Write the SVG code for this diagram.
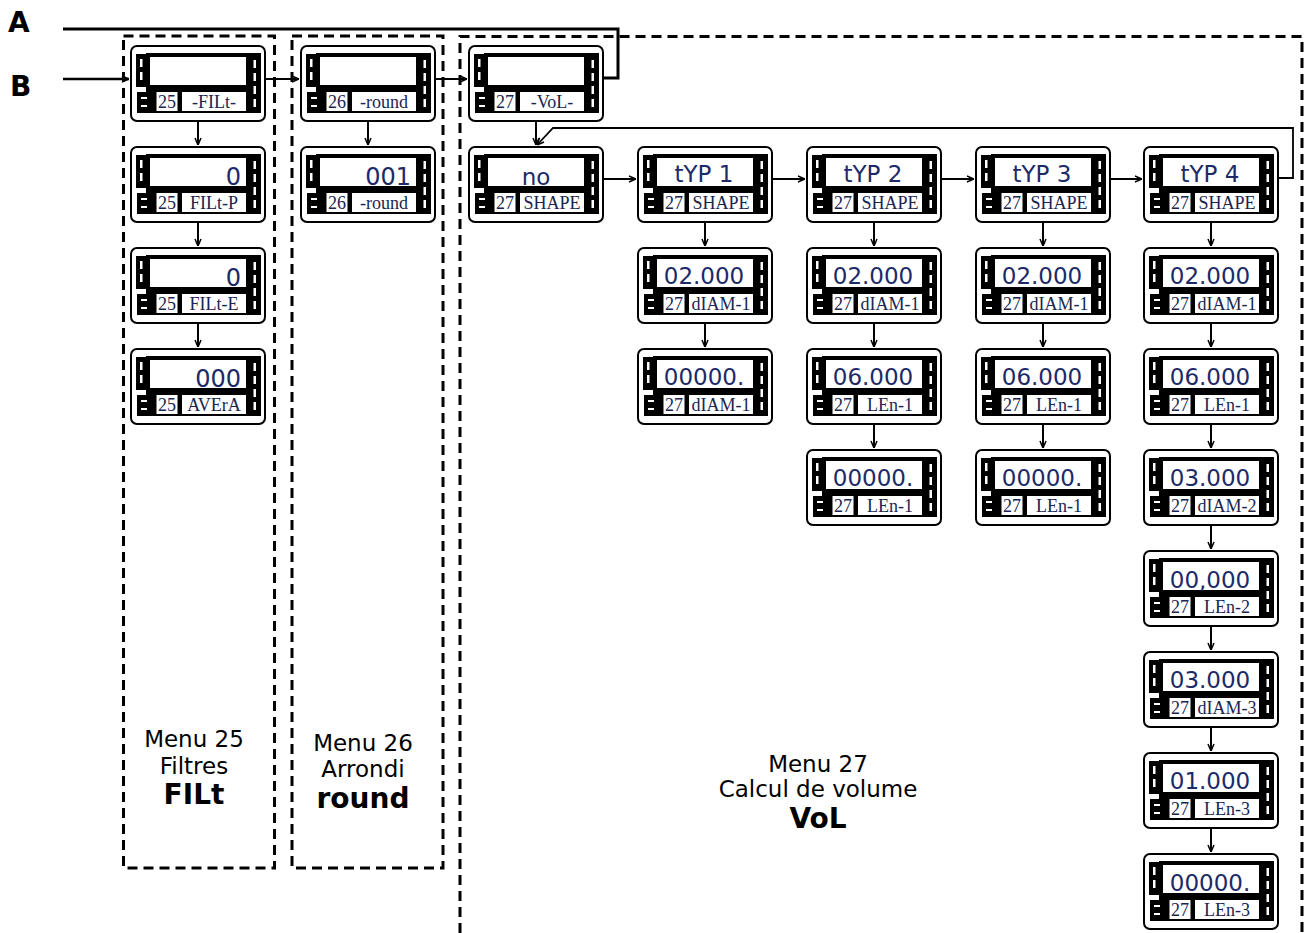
<svg xmlns="http://www.w3.org/2000/svg" xmlns:xlink="http://www.w3.org/1999/xlink" width="1309" height="933" viewBox="0 0 1309 933">
<style>
.box{fill:none;stroke:#000;stroke-width:3;stroke-dasharray:10 6}
.ln{fill:none;stroke:#000;stroke-width:2}
.num{font-family:"Liberation Serif",serif;font-size:18px;fill:#1a2550;text-anchor:middle}
.lab{font-family:"Liberation Serif",serif;font-size:18px;fill:#1a2550;text-anchor:middle}
.disp{font-family:"DejaVu Sans",sans-serif;font-size:23px;fill:#1c2a68;text-anchor:middle}
.dispr{font-family:"DejaVu Sans",sans-serif;font-size:24px;fill:#1c2a68;text-anchor:end}
.cap{font-family:"DejaVu Sans",sans-serif;font-size:23px;fill:#000;text-anchor:middle}
.big{font-family:"DejaVu Sans",sans-serif;font-size:28px;font-weight:bold;fill:#000;text-anchor:middle}
.ab{font-family:"DejaVu Sans",sans-serif;font-size:28px;font-weight:bold;fill:#000}
</style>
<defs>
<marker id="ar" viewBox="0 0 8 8" refX="8" refY="4" markerWidth="8" markerHeight="8" markerUnits="userSpaceOnUse" orient="auto">
<path d="M1,1 L8,4 L1,7" fill="none" stroke="#000" stroke-width="1.5"/>
</marker>
<g id="dev">
<rect x="1" y="1" width="134" height="75" rx="6" fill="#fff" stroke="#000" stroke-width="2"/>
<rect x="6" y="9" width="10" height="33" fill="#000"/>
<rect x="16" y="8" width="115" height="60" fill="#000"/>
<rect x="7" y="47" width="10" height="21" fill="#000"/>
<rect x="20" y="12" width="96" height="28" fill="#fff"/>
<rect x="10" y="14" width="2.5" height="8" fill="#fff"/>
<rect x="10" y="27" width="2.5" height="8" fill="#fff"/>
<rect x="123.5" y="15" width="2.5" height="8" fill="#fff"/>
<rect x="123.5" y="28" width="2.5" height="8" fill="#fff"/>
<rect x="123.5" y="41" width="2.5" height="8" fill="#fff"/>
<rect x="123.5" y="54" width="2.5" height="8" fill="#fff"/>
<rect x="11" y="52" width="6" height="2" fill="#fff"/>
<rect x="11" y="60" width="6" height="2" fill="#fff"/>
<rect x="26.5" y="47" width="21" height="19" fill="#fff"/>
<rect x="52" y="47" width="64" height="19" fill="#fff"/>
</g>
</defs>
<rect width="1309" height="933" fill="#fff"/>

<g id="frames">
<rect class="box" x="123.5" y="36" width="151" height="832"/>
<rect class="box" x="292" y="36" width="151" height="832"/>
<path class="box" d="M460,933 V36.5 H1302 V933"/>
</g>

<g id="labels">
<text class="ab" x="8" y="32">A</text>
<text class="ab" x="10" y="96">B</text>
<text class="cap" x="194" y="747">Menu 25</text>
<text class="cap" x="194" y="774">Filtres</text>
<text class="big" x="194" y="804">FILt</text>
<text class="cap" x="363" y="751">Menu 26</text>
<text class="cap" x="363" y="777">Arrondi</text>
<text class="big" x="363" y="808">round</text>
<text class="cap" x="818" y="772">Menu 27</text>
<text class="cap" x="818" y="797">Calcul de volume</text>
<text class="big" x="818" y="828">VoL</text>
</g>

<g id="connectors">
<path d="M63,29 H618 V78 H604" fill="none" stroke="#000" stroke-width="3"/>
<path d="M63,79 H129" fill="none" stroke="#000" stroke-width="2.5" marker-end="url(#ar)"/>
<path class="ln" d="M266,79 H299" marker-end="url(#ar)"/>
<path class="ln" d="M436,79 H467" marker-end="url(#ar)"/>
<path class="ln" d="M604,179 H636" marker-end="url(#ar)"/>
<path class="ln" d="M773,179 H805" marker-end="url(#ar)"/>
<path class="ln" d="M942,179 H974" marker-end="url(#ar)"/>
<path class="ln" d="M1111,179 H1142" marker-end="url(#ar)"/>
<path d="M1279,178 H1293 V128 H553 L537,145" fill="none" stroke="#000" stroke-width="1.8" marker-end="url(#ar)"/>
<path class="ln" d="M198,122 V145" marker-end="url(#ar)"/>
<path class="ln" d="M198,223 V246" marker-end="url(#ar)"/>
<path class="ln" d="M198,324 V347" marker-end="url(#ar)"/>
<path class="ln" d="M368,122 V145" marker-end="url(#ar)"/>
<path class="ln" d="M536,122 V145" marker-end="url(#ar)"/>
<path class="ln" d="M705,223 V246" marker-end="url(#ar)"/>
<path class="ln" d="M705,324 V347" marker-end="url(#ar)"/>
<path class="ln" d="M874,223 V246" marker-end="url(#ar)"/>
<path class="ln" d="M874,324 V347" marker-end="url(#ar)"/>
<path class="ln" d="M874,425 V448" marker-end="url(#ar)"/>
<path class="ln" d="M1043,223 V246" marker-end="url(#ar)"/>
<path class="ln" d="M1043,324 V347" marker-end="url(#ar)"/>
<path class="ln" d="M1043,425 V448" marker-end="url(#ar)"/>
<path class="ln" d="M1211,223 V246" marker-end="url(#ar)"/>
<path class="ln" d="M1211,324 V347" marker-end="url(#ar)"/>
<path class="ln" d="M1211,425 V448" marker-end="url(#ar)"/>
<path class="ln" d="M1211,526 V549" marker-end="url(#ar)"/>
<path class="ln" d="M1211,627 V650" marker-end="url(#ar)"/>
<path class="ln" d="M1211,728 V751" marker-end="url(#ar)"/>
<path class="ln" d="M1211,829 V852" marker-end="url(#ar)"/>
</g>

<g id="n25-0" transform="translate(130,45)"><use href="#dev"/><text class="num" x="37" y="63">25</text><text class="lab" x="84" y="63">-FILt-</text></g>
<g id="n25-1" transform="translate(130,146)"><use href="#dev"/><text class="dispr" x="111" y="39">0</text><text class="num" x="37" y="63">25</text><text class="lab" x="84" y="63">FILt-P</text></g>
<g id="n25-2" transform="translate(130,247)"><use href="#dev"/><text class="dispr" x="111" y="39">0</text><text class="num" x="37" y="63">25</text><text class="lab" x="84" y="63">FILt-E</text></g>
<g id="n25-3" transform="translate(130,348)"><use href="#dev"/><text class="dispr" x="111" y="39">000</text><text class="num" x="37" y="63">25</text><text class="lab" x="84" y="63">AVErA</text></g>

<g id="n26-0" transform="translate(300,45)"><use href="#dev"/><text class="num" x="37" y="63">26</text><text class="lab" x="84" y="63">-round</text></g>
<g id="n26-1" transform="translate(300,146)"><use href="#dev"/><text class="dispr" x="111" y="39">001</text><text class="num" x="37" y="63">26</text><text class="lab" x="84" y="63">-round</text></g>

<g id="n27-0" transform="translate(468,45)"><use href="#dev"/><text class="num" x="37" y="63">27</text><text class="lab" x="84" y="63">-VoL-</text></g>
<g id="n27-no" transform="translate(468,146)"><use href="#dev"/><text class="disp" x="68" y="39">no</text><text class="num" x="37" y="63">27</text><text class="lab" x="84" y="63">SHAPE</text></g>

<g id="t1-0" transform="translate(637,146)"><use href="#dev"/><text class="disp" x="67" y="36">tYP 1</text><text class="num" x="37" y="63">27</text><text class="lab" x="84" y="63">SHAPE</text></g>
<g id="t1-1" transform="translate(637,247)"><use href="#dev"/><text class="disp" x="67" y="37">02.000</text><text class="num" x="37" y="63">27</text><text class="lab" x="84" y="63">dIAM-1</text></g>
<g id="t1-2" transform="translate(637,348)"><use href="#dev"/><text class="disp" x="67" y="37">00000.</text><text class="num" x="37" y="63">27</text><text class="lab" x="84" y="63">dIAM-1</text></g>

<g id="t2-0" transform="translate(806,146)"><use href="#dev"/><text class="disp" x="67" y="36">tYP 2</text><text class="num" x="37" y="63">27</text><text class="lab" x="84" y="63">SHAPE</text></g>
<g id="t2-1" transform="translate(806,247)"><use href="#dev"/><text class="disp" x="67" y="37">02.000</text><text class="num" x="37" y="63">27</text><text class="lab" x="84" y="63">dIAM-1</text></g>
<g id="t2-2" transform="translate(806,348)"><use href="#dev"/><text class="disp" x="67" y="37">06.000</text><text class="num" x="37" y="63">27</text><text class="lab" x="84" y="63">LEn-1</text></g>
<g id="t2-3" transform="translate(806,449)"><use href="#dev"/><text class="disp" x="67" y="37">00000.</text><text class="num" x="37" y="63">27</text><text class="lab" x="84" y="63">LEn-1</text></g>

<g id="t3-0" transform="translate(975,146)"><use href="#dev"/><text class="disp" x="67" y="36">tYP 3</text><text class="num" x="37" y="63">27</text><text class="lab" x="84" y="63">SHAPE</text></g>
<g id="t3-1" transform="translate(975,247)"><use href="#dev"/><text class="disp" x="67" y="37">02.000</text><text class="num" x="37" y="63">27</text><text class="lab" x="84" y="63">dIAM-1</text></g>
<g id="t3-2" transform="translate(975,348)"><use href="#dev"/><text class="disp" x="67" y="37">06.000</text><text class="num" x="37" y="63">27</text><text class="lab" x="84" y="63">LEn-1</text></g>
<g id="t3-3" transform="translate(975,449)"><use href="#dev"/><text class="disp" x="67" y="37">00000.</text><text class="num" x="37" y="63">27</text><text class="lab" x="84" y="63">LEn-1</text></g>

<g id="t4-0" transform="translate(1143,146)"><use href="#dev"/><text class="disp" x="67" y="36">tYP 4</text><text class="num" x="37" y="63">27</text><text class="lab" x="84" y="63">SHAPE</text></g>
<g id="t4-1" transform="translate(1143,247)"><use href="#dev"/><text class="disp" x="67" y="37">02.000</text><text class="num" x="37" y="63">27</text><text class="lab" x="84" y="63">dIAM-1</text></g>
<g id="t4-2" transform="translate(1143,348)"><use href="#dev"/><text class="disp" x="67" y="37">06.000</text><text class="num" x="37" y="63">27</text><text class="lab" x="84" y="63">LEn-1</text></g>
<g id="t4-3" transform="translate(1143,449)"><use href="#dev"/><text class="disp" x="67" y="37">03.000</text><text class="num" x="37" y="63">27</text><text class="lab" x="84" y="63">dIAM-2</text></g>
<g id="t4-4" transform="translate(1143,550)"><use href="#dev"/><text class="disp" x="67" y="38">00,000</text><text class="num" x="37" y="63">27</text><text class="lab" x="84" y="63">LEn-2</text></g>
<g id="t4-5" transform="translate(1143,651)"><use href="#dev"/><text class="disp" x="67" y="37">03.000</text><text class="num" x="37" y="63">27</text><text class="lab" x="84" y="63">dIAM-3</text></g>
<g id="t4-6" transform="translate(1143,752)"><use href="#dev"/><text class="disp" x="67" y="37">01.000</text><text class="num" x="37" y="63">27</text><text class="lab" x="84" y="63">LEn-3</text></g>
<g id="t4-7" transform="translate(1143,853)"><use href="#dev"/><text class="disp" x="67" y="38">00000.</text><text class="num" x="37" y="63">27</text><text class="lab" x="84" y="63">LEn-3</text></g>
</svg>
